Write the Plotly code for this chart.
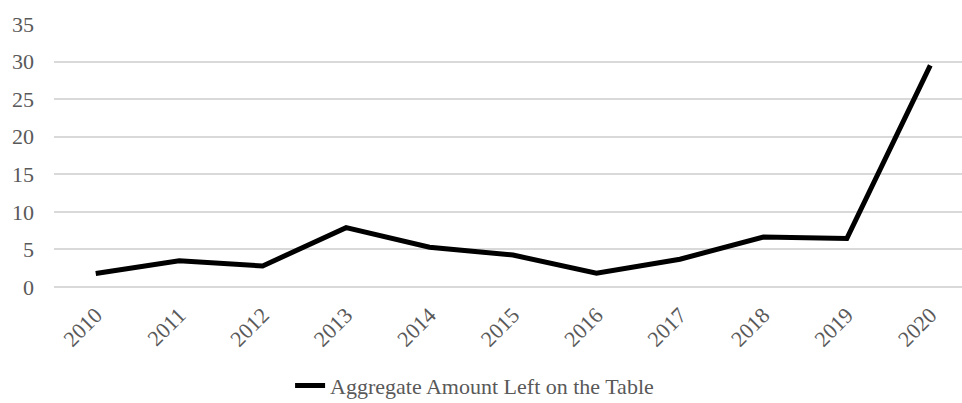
import plotly.graph_objects as go

# Aggregate amount left on the table, by year
years = [2010, 2011, 2012, 2013, 2014, 2015, 2016, 2017, 2018, 2019, 2020]
amount = [1.8, 3.5, 2.8, 7.9, 5.3, 4.25, 1.85, 3.7, 6.65, 6.45, 29.5]
series_name = "Aggregate Amount Left on the Table"
y_ticks = [0, 5, 10, 15, 20, 25, 30, 35]

FONT = "Liberation Serif, Times New Roman, serif"
TEXT_GRAY = "#595959"
GRID = "#d9d9d9"

fig = go.Figure()
fig.add_trace(go.Scatter(
    x=years,
    y=amount,
    mode="lines",
    name=series_name,
    line=dict(color="black", width=5),
))

fig.update_layout(
    width=962,
    height=403,
    margin=dict(l=54, r=0, t=24, b=116, autoexpand=False),
    paper_bgcolor="white",
    plot_bgcolor="white",
    font=dict(family=FONT, size=22, color=TEXT_GRAY),
    showlegend=True,
    legend=dict(
        orientation="h",
        x=0.26,
        xanchor="left",
        y=-0.375,
        yanchor="middle",
        font=dict(family=FONT, size=22, color=TEXT_GRAY),
        bgcolor="rgba(0,0,0,0)",
    ),
)

fig.update_xaxes(
    range=[2009.5, 2020.38],
    tickmode="array",
    tickvals=years,
    ticktext=[str(y) for y in years],
    tickangle=-45,
    showgrid=False,
    zeroline=False,
    showline=False,
    ticks="",
    automargin=False,
    ticklabelstandoff=10,
    tickfont=dict(family=FONT, size=22, color=TEXT_GRAY),
)

fig.update_yaxes(
    range=[0, 35],
    tickmode="array",
    tickvals=y_ticks,
    showgrid=True,
    gridcolor=GRID,
    gridwidth=1.5,
    zeroline=True,
    zerolinecolor=GRID,
    zerolinewidth=1.5,
    showline=False,
    ticks="",
    automargin=False,
    ticklabelstandoff=19,
    tickfont=dict(family=FONT, size=22, color=TEXT_GRAY),
)

fig.write_html("out.html")
